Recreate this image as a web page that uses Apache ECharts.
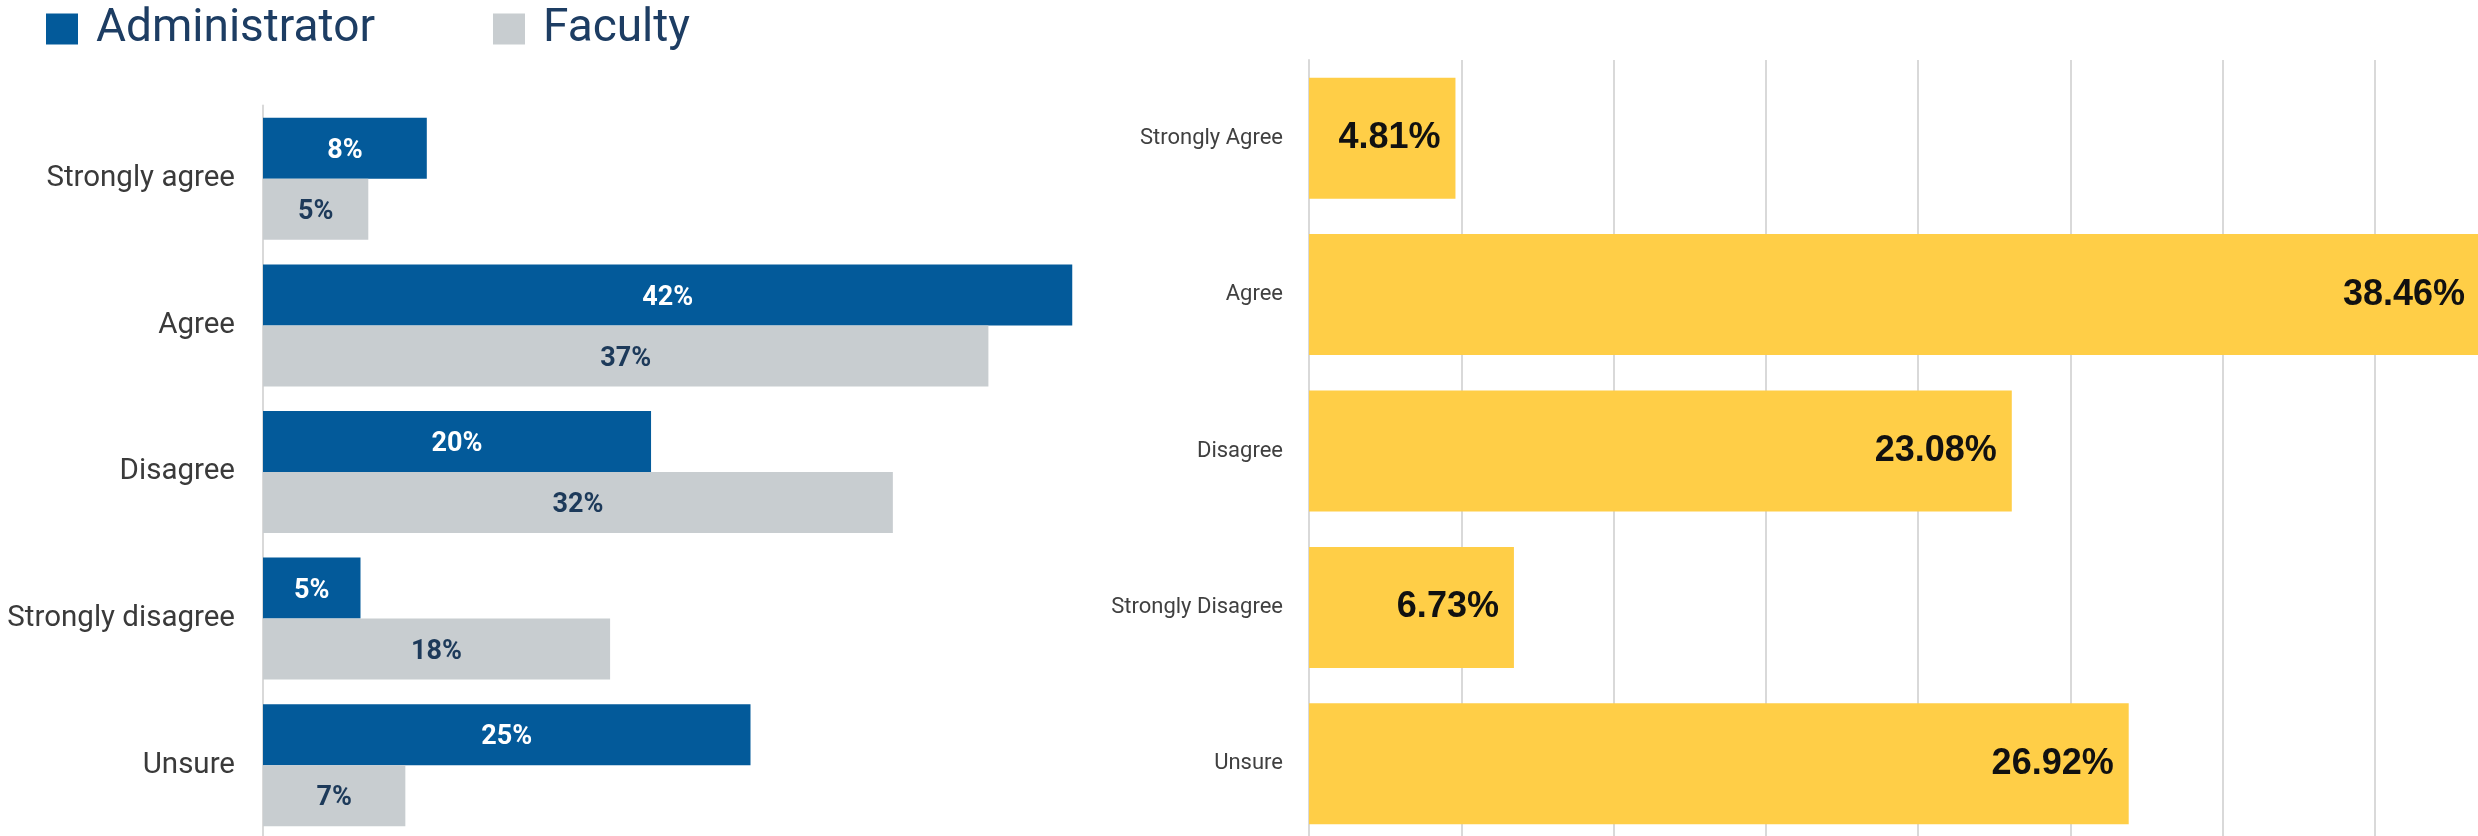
<!DOCTYPE html>
<html>
<head>
<meta charset="utf-8">
<script src="https://cdn.jsdelivr.net/npm/echarts@6/dist/echarts.min.js"></script>
<style>
  html, body { margin: 0; padding: 0; background: #ffffff; }
  #chart { width: 2478px; height: 836px; }
</style>
</head>
<body>
<div id="chart"></div>
<script>
// Left chart: Administrator vs Faculty
const leftCategories = ['Strongly agree', 'Agree', 'Disagree', 'Strongly disagree', 'Unsure'];
const adminValues = [8.4, 41.5, 19.9, 5.0, 25.0];
const facultyValues = [5.4, 37.2, 32.3, 17.8, 7.3];
const seriesNames = ['Administrator', 'Faculty'];

// Right chart: single series
const rightCategories = ['Strongly Agree', 'Agree', 'Disagree', 'Strongly Disagree', 'Unsure'];
const rightValues = [4.81, 38.46, 23.08, 6.73, 26.92];

const chart = echarts.init(document.getElementById('chart'), null, { renderer: 'canvas' });

const option = {
  backgroundColor: '#ffffff',
  animation: false,
  legend: {
    data: seriesNames,
    left: 41,
    top: 1,
    icon: 'rect',
    itemWidth: 32,
    itemHeight: 31,
    itemGap: 118,
    textStyle: {
      fontFamily: 'Roboto',
      fontSize: 46,
      color: '#1d3d63',
      padding: [0, 0, 0, 13]
    }
  },
  grid: [
    { left: 263, top: 105.5, width: 975, bottom: -2.5, outerBoundsMode: 'none' },
    { left: 1309, top: 60, width: 1218, bottom: -6, outerBoundsMode: 'none' }
  ],
  xAxis: [
    {
      gridIndex: 0, type: 'value', min: 0, max: 50,
      axisLine: { show: false }, axisTick: { show: false },
      axisLabel: { show: false }, splitLine: { show: false }
    },
    {
      gridIndex: 1, type: 'value', min: 0, max: 40, interval: 5,
      axisLine: { show: false }, axisTick: { show: false },
      axisLabel: { show: false },
      splitLine: { show: true, lineStyle: { color: '#d9d9d9', width: 2 } }
    }
  ],
  yAxis: [
    {
      gridIndex: 0, type: 'category', data: leftCategories, inverse: true,
      axisLine: { show: true, lineStyle: { color: '#d9d9d9', width: 2 } },
      axisTick: { show: false },
      axisLabel: { fontFamily: 'Roboto', fontSize: 29.5, color: '#3a3a3a', margin: 28 }
    },
    {
      gridIndex: 1, type: 'category', data: rightCategories, inverse: true,
      axisLine: { show: true, lineStyle: { color: '#d9d9d9', width: 2 } },
      axisTick: { show: false },
      axisLabel: { fontFamily: 'Roboto', fontSize: 22, color: '#404040', margin: 26 }
    }
  ],
  series: [
    {
      name: seriesNames[0], type: 'bar', xAxisIndex: 0, yAxisIndex: 0,
      data: adminValues, barWidth: 61, barGap: '0%',
      itemStyle: { color: '#035a9a' },
      label: {
        show: true, position: 'inside', color: '#ffffff', offset: [0, 3],
        fontFamily: 'Roboto', fontWeight: 'bold', fontSize: 27,
        formatter: p => Math.round(p.value) + '%'
      }
    },
    {
      name: seriesNames[1], type: 'bar', xAxisIndex: 0, yAxisIndex: 0,
      data: facultyValues, barWidth: 61, barGap: '0%',
      itemStyle: { color: '#c8cdd0' },
      label: {
        show: true, position: 'inside', color: '#1d3a5a', offset: [0, 3],
        fontFamily: 'Roboto', fontWeight: 'bold', fontSize: 27,
        formatter: p => Math.round(p.value) + '%'
      }
    },
    {
      name: 'Share', type: 'bar', xAxisIndex: 1, yAxisIndex: 1,
      data: rightValues, barWidth: 121,
      itemStyle: { color: '#ffce47' },
      label: {
        show: true, position: 'insideRight', distance: 15, color: '#111111',
        fontFamily: 'Liberation Sans', fontWeight: 'bold', fontSize: 36,
        formatter: p => p.value.toFixed(2) + '%'
      }
    }
  ]
};

chart.setOption(option);
</script>
</body>
</html>
